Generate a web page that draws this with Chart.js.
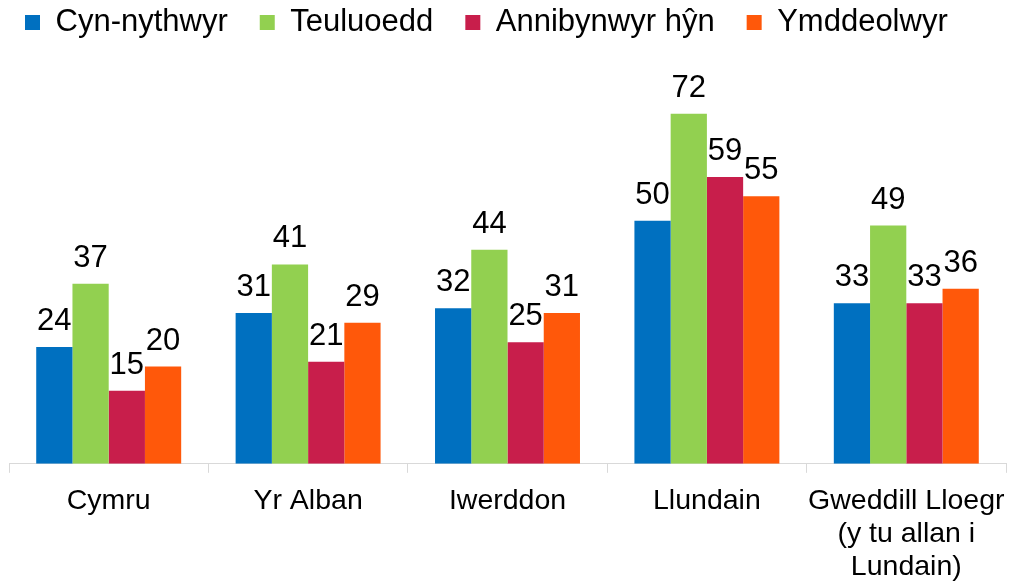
<!DOCTYPE html>
<html>
<head>
<meta charset="utf-8">
<script src="https://cdn.jsdelivr.net/npm/chart.js@4/dist/chart.umd.min.js"></script>
<style>
  html, body { margin: 0; padding: 0; background: #fff; }
  #wrap { width: 1012px; height: 581px; }
</style>
</head>
<body>
<div id="wrap"><canvas id="chart" width="1012" height="581"></canvas></div>
<script>
var categories = ['Cymru', 'Yr Alban', 'Iwerddon', 'Llundain', ['Gweddill Lloegr', '(y tu allan i', 'Lundain)']];
var seriesNames = ['Cyn-nythwyr', 'Teuluoedd', 'Annibynwyr hŷn', 'Ymddeolwyr'];
var firstTimeBuyers = [24, 31, 32, 50, 33];
var families = [37, 41, 44, 72, 49];
var olderIndependents = [15, 21, 25, 59, 33];
var retirees = [20, 29, 31, 55, 36];
var seriesColors = ['#0070C0', '#92D050', '#C81E4B', '#FF580A'];

var fontFamily = '"Liberation Sans", Arial, sans-serif';

// value labels above each bar
var barLabels = {
  id: 'barLabels',
  afterDatasetsDraw: function (chart) {
    var ctx = chart.ctx;
    ctx.save();
    ctx.font = '31px ' + fontFamily;
    ctx.fillStyle = '#000';
    ctx.textAlign = 'center';
    ctx.textBaseline = 'alphabetic';
    chart.data.datasets.forEach(function (ds, i) {
      var meta = chart.getDatasetMeta(i);
      meta.data.forEach(function (bar, j) {
        ctx.fillText(String(ds.data[j]), bar.x, bar.y - 17);
      });
    });
    ctx.restore();
  }
};

// nudge the legend row a little to the left, like the original
var legendShift = {
  id: 'legendShift',
  afterLayout: function (chart) {
    if (chart.legend) {
      chart.legend.left -= 16;
      chart.legend.right -= 16;
    }
  }
};

var seriesData = [firstTimeBuyers, families, olderIndependents, retirees];

new Chart(document.getElementById('chart'), {
  type: 'bar',
  data: {
    labels: categories,
    datasets: seriesNames.map(function (name, i) {
      return { label: name, data: seriesData[i], backgroundColor: seriesColors[i], borderWidth: 0 };
    })
  },
  options: {
    responsive: false,
    animation: false,
    layout: { padding: { top: -25, left: 9, right: 6, bottom: -15 } },
    datasets: { bar: { categoryPercentage: 0.727, barPercentage: 1.0 } },
    plugins: {
      tooltip: { enabled: false },
      legend: {
        position: 'top',
        align: 'start',
        labels: {
          boxWidth: 15,
          boxHeight: 15,
          padding: 32,
          color: '#000',
          font: { family: fontFamily, size: 31 }
        }
      }
    },
    scales: {
      x: {
        grid: { display: true, drawOnChartArea: false, drawTicks: true, tickLength: 9, color: '#d9d9d9', offset: true },
        border: { display: true, color: '#d9d9d9', width: 1 },
        ticks: { color: '#000', padding: 12, maxRotation: 0, autoSkip: false, font: { family: fontFamily, size: 28.5, lineHeight: 1.16 } },
        afterFit: function (scale) {
          // the long last label should not squeeze the plot from the right
          scale.paddingLeft = 0;
          scale.paddingRight = 0;
        }
      },
      y: {
        display: false,
        min: 0,
        max: 85.5
      }
    }
  },
  plugins: [barLabels, legendShift]
});
</script>
</body>
</html>
